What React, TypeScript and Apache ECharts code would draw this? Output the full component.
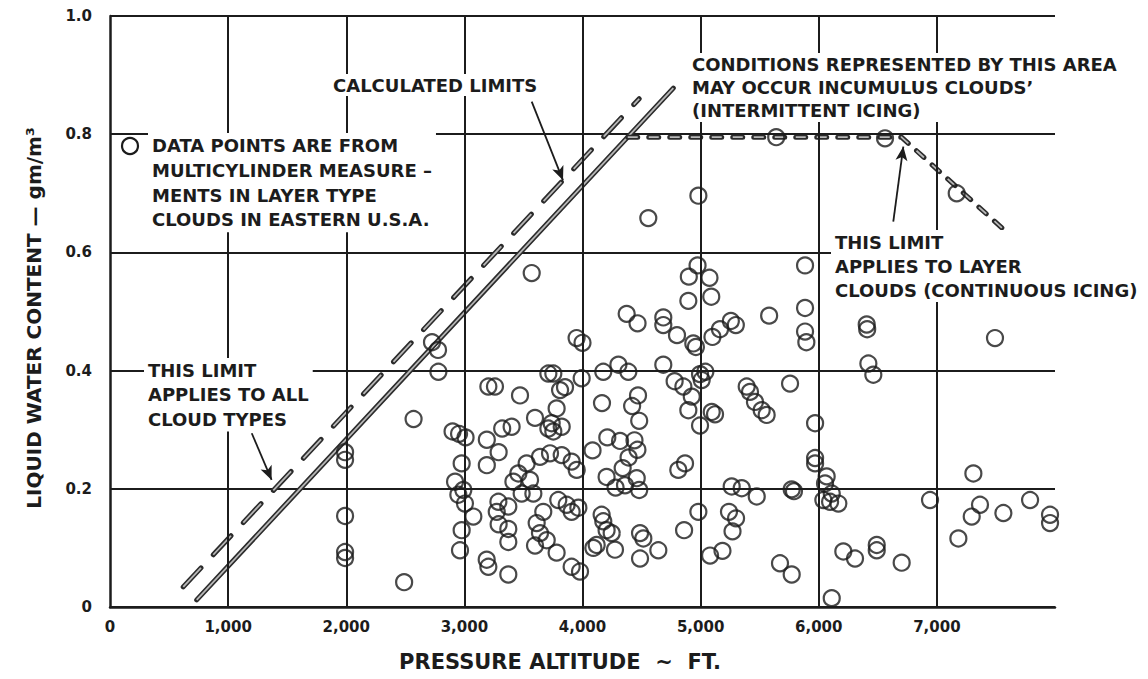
import React, { useEffect, useRef } from 'react';
import * as echarts from 'echarts';

// Axis ticks
const xTickValues = [0, 1000, 2000, 3000, 4000, 5000, 6000, 7000, 8000];
const yTickValues = [0, 0.2, 0.4, 0.6, 0.8, 1.0];
const verticalGridValues = [1000, 2000, 3000, 4000, 5000, 6000, 7000];

// Data points [pressure altitude ft, liquid water content g/m3]
const pointsNear2000: [number, number][] = [
  [1990, 0.262], [1990, 0.249], [1990, 0.154], [1990, 0.093], [1990, 0.083],
  [2490, 0.042], [2570, 0.318], [2726, 0.448], [2777, 0.435], [2780, 0.398],
];
const pointsNear3000: [number, number][] = [
  [2900, 0.297], [2955, 0.293], [3010, 0.287], [2977, 0.243], [2921, 0.212],
  [2991, 0.198], [2949, 0.19], [3005, 0.175], [3076, 0.153], [2977, 0.13], [2963, 0.096],
];
const points3200to3500: [number, number][] = [
  [3203, 0.373], [3259, 0.373], [3471, 0.358],
  [3190, 0.283], [3320, 0.302], [3400, 0.305], [3290, 0.262], [3190, 0.24],
  [3288, 0.178], [3372, 0.17], [3274, 0.161], [3290, 0.14], [3372, 0.132], [3372, 0.11],
  [3189, 0.08], [3203, 0.068], [3372, 0.055],
  [3415, 0.212], [3457, 0.226], [3485, 0.192],
];
const points3500to4000Upper: [number, number][] = [
  [3570, 0.565],
  [3711, 0.395], [3753, 0.395], [3810, 0.367], [3852, 0.372], [3993, 0.387],
  [3781, 0.336], [3739, 0.311], [3598, 0.32], [3711, 0.302], [3753, 0.297], [3824, 0.305],
  [3950, 0.455], [4000, 0.447],
];
const points3500to4000Mid: [number, number][] = [
  [3527, 0.243], [3640, 0.254], [3725, 0.26], [3824, 0.257], [3908, 0.246],
  [3951, 0.232], [3556, 0.215], [3584, 0.192],
];
const points3500to4000Low: [number, number][] = [
  [3795, 0.181], [3866, 0.173], [3965, 0.168], [3908, 0.161], [3668, 0.161],
  [3612, 0.142], [3640, 0.125], [3598, 0.104], [3697, 0.113], [3781, 0.092],
  [3908, 0.068], [3979, 0.06],
];
const points4000to4500Low: [number, number][] = [
  [4162, 0.156], [4176, 0.145], [4204, 0.13], [4247, 0.125], [4120, 0.105],
  [4092, 0.1], [4275, 0.097],
];
const points4000to4500Mid: [number, number][] = [
  [4085, 0.265], [4210, 0.287], [4318, 0.281], [4440, 0.282], [4465, 0.266],
  [4204, 0.22], [4280, 0.202], [4360, 0.206], [4340, 0.235], [4459, 0.218],
  [4480, 0.198], [4390, 0.253],
];
const points4000to4500Upper: [number, number][] = [
  [4176, 0.398], [4304, 0.41], [4388, 0.398], [4165, 0.345], [4420, 0.34],
  [4470, 0.358], [4480, 0.315],
];
const points4500to5600High: [number, number][] = [
  [4557, 0.658], [4981, 0.696],
  [4974, 0.578], [4900, 0.559], [5075, 0.557], [4896, 0.518], [5090, 0.525],
  [4374, 0.496], [4466, 0.48], [4684, 0.49], [4684, 0.477], [4800, 0.46],
  [4938, 0.446], [4960, 0.44], [5100, 0.457], [5164, 0.47], [5256, 0.484],
  [5298, 0.477], [5580, 0.493],
];
const points4500to5200Mid: [number, number][] = [
  [4684, 0.41], [4780, 0.382], [4854, 0.373], [4925, 0.356], [4995, 0.394],
  [5040, 0.398], [5009, 0.384], [4896, 0.333], [4995, 0.307], [5094, 0.33], [5122, 0.326],
];
const points4500to5200Low: [number, number][] = [
  [4811, 0.232], [4868, 0.243], [4981, 0.161], [4860, 0.13], [4487, 0.125],
  [4515, 0.116], [4487, 0.082], [4642, 0.096], [5080, 0.087], [5185, 0.095],
];
const points5200to5600: [number, number][] = [
  [5263, 0.204], [5348, 0.201], [5475, 0.187], [5240, 0.161], [5300, 0.15], [5270, 0.128],
  [5390, 0.373], [5418, 0.364], [5460, 0.347], [5517, 0.333], [5559, 0.325],
];
const points5600to8000: [number, number][] = [
  [5640, 0.795], [6561, 0.793], [7168, 0.7],
  [5884, 0.578], [5884, 0.506], [5884, 0.466], [5895, 0.448],
  [6406, 0.478], [6410, 0.47], [6420, 0.412], [6462, 0.393],
  [5757, 0.378], [5969, 0.311],
  [5969, 0.252], [5969, 0.243], [6067, 0.221], [6053, 0.209], [6110, 0.192],
  [6039, 0.181], [6096, 0.178], [6166, 0.175],
  [5771, 0.199], [5790, 0.196],
  [5672, 0.074], [5771, 0.055],
  [6208, 0.094], [6307, 0.082], [6491, 0.105], [6491, 0.096], [6702, 0.075], [6110, 0.015],
  [6942, 0.181], [7309, 0.226], [7365, 0.173], [7295, 0.153], [7182, 0.116],
  [7563, 0.159], [7789, 0.181], [7958, 0.156], [7958, 0.142], [7492, 0.455],
];

const allPoints = [
  ...pointsNear2000, ...pointsNear3000, ...points3200to3500,
  ...points3500to4000Upper, ...points3500to4000Mid, ...points3500to4000Low,
  ...points4000to4500Low, ...points4000to4500Mid, ...points4000to4500Upper,
  ...points4500to5600High, ...points4500to5200Mid, ...points4500to5200Low,
  ...points5200to5600, ...points5600to8000,
];

// Limit lines
const calculatedLimitDashed: [number, number][] = [[620, 0.034], [4480, 0.86]];
const allCloudTypesLimit: [number, number][] = [[734, 0.012], [4769, 0.878]];
const layerCloudsLimit: [number, number][] = [[4383, 0.795], [6700, 0.795], [7570, 0.638]];

// Annotation arrows [tail, head]
const arrowCalculated: [number, number][] = [[3570, 0.855], [3835, 0.722]];
const arrowAllClouds: [number, number][] = [[1200, 0.294], [1368, 0.215]];
const arrowLayerClouds: [number, number][] = [[6631, 0.652], [6716, 0.779]];

const INK = '#1c1c1c';
const FONT = '"DejaVu Sans", "Liberation Sans", sans-serif';

function limitLine(data: [number, number][], dash: any) {
  return [
    {
      type: 'line', data, symbol: 'none', silent: true, z: 3,
      lineStyle: { color: '#2b2b2b', width: 5, type: dash, cap: 'round' },
    },
    {
      type: 'line', data, symbol: 'none', silent: true, z: 3,
      lineStyle: { color: '#b8b8b8', width: 1.8, type: dash, cap: 'butt' },
    },
  ];
}

function textBlock(text: string, x: number, y: number, lineHeight: number) {
  return {
    type: 'text', x, y, z: 100,
    style: {
      text, fill: INK, fontFamily: FONT, fontWeight: 'bold', fontSize: 18,
      lineHeight, align: 'left', verticalAlign: 'top',
      backgroundColor: '#fff', padding: [0, 4, 0, 4],
    },
  };
}

export default function App() {
  const ref = useRef<HTMLDivElement>(null);
  useEffect(() => {
    document.body.style.margin = '0';
    if (!ref.current) return;
    const chart = echarts.init(ref.current, undefined, { renderer: 'svg' });
    const arrowLine = (a: [number, number][]) => [{ coord: a[0] }, { coord: a[1] }];
    chart.setOption({
      animation: false,
      backgroundColor: '#fff',
      grid: { left: 110, top: 16, width: 945, height: 591 },
      xAxis: {
        type: 'value', min: xTickValues[0], max: xTickValues[xTickValues.length - 1], interval: 1000,
        axisLine: { show: true, lineStyle: { color: INK, width: 2.5 } },
        axisTick: { show: false },
        splitLine: { show: false },
        axisLabel: {
          margin: 12, color: INK, fontFamily: FONT, fontWeight: 'bold', fontSize: 15,
          formatter: (v: number) => (v === 8000 ? '' : v === 0 ? '0' : v.toLocaleString('en-US')),
        },
      },
      yAxis: {
        type: 'value', min: yTickValues[0], max: yTickValues[yTickValues.length - 1], interval: 0.2,
        axisLine: { show: true, lineStyle: { color: INK, width: 2.5 } },
        axisTick: { show: false },
        splitLine: { show: true, lineStyle: { color: INK, width: 2 } },
        axisLabel: {
          margin: 18, color: INK, fontFamily: FONT, fontWeight: 'bold', fontSize: 15,
          formatter: (v: number) => (v === 0 ? '0' : v.toFixed(1)),
        },
      },
      series: [
        {
          type: 'line', data: [[0, 0]], symbol: 'none', lineStyle: { width: 0 }, silent: true, z: 1,
          markLine: {
            silent: true, symbol: ['none', 'none'], label: { show: false },
            lineStyle: { color: INK, width: 2, type: 'solid' },
            data: verticalGridValues.map((v) => ({ xAxis: v })),
          },
        },
        ...limitLine(calculatedLimitDashed, [26, 18]),
        ...limitLine(allCloudTypesLimit, 'solid'),
        ...limitLine(layerCloudsLimit, [10, 11]),
        {
          type: 'scatter', data: allPoints, symbol: 'circle', symbolSize: 16, z: 4, silent: true,
          itemStyle: { color: 'rgba(0,0,0,0)', borderColor: INK, borderWidth: 2.2 },
        },
        {
          type: 'line', data: [[0, 0]], symbol: 'none', lineStyle: { width: 0 }, silent: true, z: 5,
          markLine: {
            silent: true, symbol: ['none', 'arrow'], symbolSize: [9, 14], label: { show: false },
            lineStyle: { color: INK, width: 1.8, type: 'solid' },
            data: [arrowLine(arrowCalculated), arrowLine(arrowAllClouds), arrowLine(arrowLayerClouds)],
          },
        },
      ],
      graphic: [
        { type: 'circle', z: 101, shape: { cx: 130, cy: 146, r: 8 }, style: { fill: 'none', stroke: INK, lineWidth: 2.2 } },
        textBlock('DATA POINTS ARE FROM\nMULTICYLINDER MEASURE –\nMENTS IN LAYER TYPE\nCLOUDS IN EASTERN U.S.A.', 148, 133, 24.8),
        textBlock('CALCULATED LIMITS', 329, 74, 22),
        textBlock('CONDITIONS REPRESENTED BY THIS AREA\nMAY OCCUR INCUMULUS CLOUDS\u2019\n(INTERMITTENT ICING)', 688, 53, 23),
        textBlock('THIS LIMIT\nAPPLIES TO LAYER\nCLOUDS (CONTINUOUS ICING)', 831, 230, 24),
        textBlock('THIS LIMIT\nAPPLIES TO ALL\nCLOUD TYPES', 144, 358, 24.5),
        {
          type: 'text', x: 560, y: 662, z: 100,
          style: { text: 'PRESSURE ALTITUDE  ~  FT.', fill: INK, fontFamily: FONT, fontWeight: 'bold', fontSize: 21, align: 'center', verticalAlign: 'middle' },
        },
        {
          type: 'text', x: 34, y: 318, rotation: Math.PI / 2, z: 100,
          style: { text: 'LIQUID WATER CONTENT — gm/m³', fill: INK, fontFamily: FONT, fontWeight: 'bold', fontSize: 20, align: 'center', verticalAlign: 'middle' },
        },
      ],
    });
    return () => chart.dispose();
  }, []);
  return <div ref={ref} style={{ width: 1148, height: 679 }} />;
}
